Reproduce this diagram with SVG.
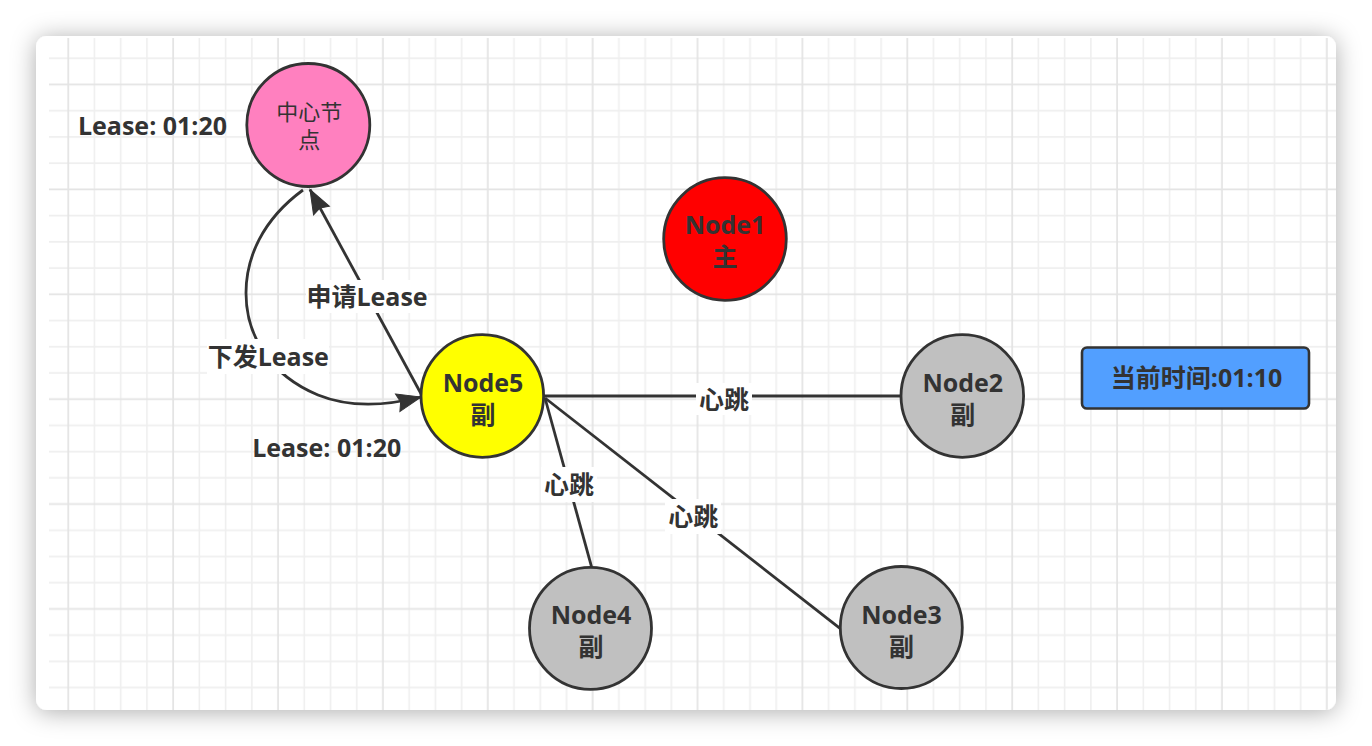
<svg xmlns="http://www.w3.org/2000/svg" width="1372" height="746" viewBox="0 0 1372 746">
<defs>
  <filter id="shadow" x="-10%" y="-10%" width="120%" height="120%">
    <feDropShadow dx="0" dy="2" stdDeviation="12" flood-color="#000" flood-opacity="0.33"/>
  </filter>
  <pattern id="grid" patternUnits="userSpaceOnUse" x="55.19" y="45.19" width="104.88" height="104.88">
    <g fill="none">
      <path d="M39.33,0 V104.88 M65.55,0 V104.88 M91.77,0 V104.88 M0,13.11 H104.88 M0,65.55 H104.88 M0,91.77 H104.88" stroke="#efefef" stroke-width="1.6"/>
      <path d="M13.11,0 V104.88 M0,39.33 H104.88" stroke="#e4e4e4" stroke-width="1.8"/>
    </g>
  </pattern>
  <clipPath id="cardclip">
    <rect x="36" y="36" width="1300" height="674" rx="11"/>
  </clipPath>
  <marker id="arrow" markerUnits="userSpaceOnUse" markerWidth="26" markerHeight="20" refX="24" refY="9" orient="auto" overflow="visible">
    <path d="M0,0 L24,9 L0,18 L3,9 Z" fill="#333333" stroke="#333333" stroke-width="1" stroke-linejoin="miter"/>
  </marker>
  <style>
    .node { stroke: #333333; stroke-width: 2.8; }
    .t { font-family: "Open Sans", "Noto Sans CJK SC", sans-serif; fill: #333333; text-anchor: middle; }
    .b { font-weight: bold; font-size: 25px; }
    .r { font-weight: normal; font-size: 22px; }
    .edge { fill: none; stroke: #333333; stroke-width: 2.8; }
    .lbg { fill: #ffffff; }
  </style>
</defs>

<rect x="0" y="0" width="1372" height="746" fill="#ffffff"/>
<rect x="36" y="36" width="1300" height="674" rx="11" fill="#ffffff" filter="url(#shadow)"/>
<g clip-path="url(#cardclip)">
  <rect x="49" y="38" width="1287" height="672" fill="url(#grid)"/>
</g>

<g id="connectors">
  <g id="edge-apply">
    <path class="edge" d="M421.7,395 L310,189.5" marker-end="url(#arrow)"/>
    <rect class="lbg" x="306" y="280" width="122" height="33"/>
    <text class="t b" x="367" y="305.5">申请Lease</text>
  </g>
  <g id="edge-issue">
    <path class="edge" d="M303,190 C262,220 246,258 246,293 C246,336 270,375 318,395 C350,408 385,406 421,397" marker-end="url(#arrow)"/>
    <rect class="lbg" x="207" y="339" width="122" height="35"/>
    <text class="t b" x="268.3" y="365.5">下发Lease</text>
  </g>
  <g id="edge-n2">
    <path class="edge" d="M544,396 L900.7,396"/>
    <rect class="lbg" x="696" y="383" width="56" height="32"/>
    <text class="t b" x="724" y="408.5">心跳</text>
  </g>
  <g id="edge-n4">
    <path class="edge" d="M545,398 L591.7,567.3"/>
    <rect class="lbg" x="541" y="467" width="56" height="35"/>
    <text class="t b" x="569" y="493.5">心跳</text>
  </g>
  <g id="edge-n3">
    <path class="edge" d="M545,398 L840,628.3"/>
    <rect class="lbg" x="665" y="499" width="56" height="35"/>
    <text class="t b" x="693.3" y="526">心跳</text>
  </g>
</g>

<g id="center-node">
  <circle class="node" cx="308.3" cy="125" r="61.5" fill="#ff80bf"/>
  <text class="t r" x="309.3" y="120">中心节</text>
  <text class="t r" x="309.3" y="148.4">点</text>
</g>

<g id="lease-top">
  <text class="t b" x="152.5" y="135">Lease: 01:20</text>
</g>

<g id="lease-bottom">
  <text class="t b" x="326.7" y="457">Lease: 01:20</text>
</g>

<g id="node1">
  <circle class="node" cx="725" cy="239" r="61.3" fill="#ff0000"/>
  <text class="t b" x="725" y="234">Node1</text>
  <text class="t b" x="725" y="266">主</text>
</g>

<g id="node5">
  <circle class="node" cx="482.3" cy="396" r="61.3" fill="#ffff00"/>
  <text class="t b" x="483" y="392.3">Node5</text>
  <text class="t b" x="483" y="423.5">副</text>
</g>

<g id="node2">
  <circle class="node" cx="962.3" cy="396" r="61.3" fill="#c0c0c0"/>
  <text class="t b" x="962.8" y="392.3">Node2</text>
  <text class="t b" x="962.8" y="424">副</text>
</g>

<g id="node4">
  <circle class="node" cx="590.5" cy="628.3" r="61" fill="#c0c0c0"/>
  <text class="t b" x="591" y="624">Node4</text>
  <text class="t b" x="591" y="656">副</text>
</g>

<g id="node3">
  <circle class="node" cx="901.3" cy="627.5" r="61" fill="#c0c0c0"/>
  <text class="t b" x="901.5" y="624">Node3</text>
  <text class="t b" x="901.5" y="656">副</text>
</g>

<g id="time-box">
  <rect x="1082" y="347.5" width="227" height="61" rx="5" fill="#529fff" stroke="#333333" stroke-width="2.6"/>
  <text class="t b" x="1196.5" y="387">当前时间:01:10</text>
</g>
</svg>
